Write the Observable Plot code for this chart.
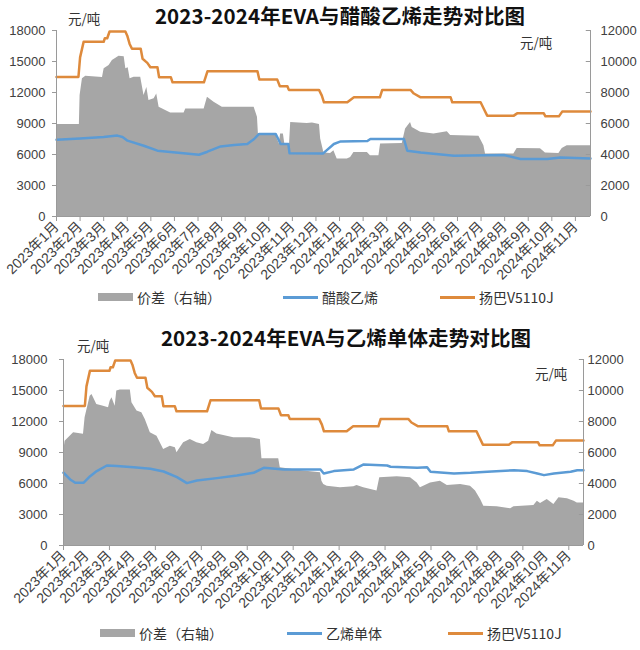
<!DOCTYPE html>
<html>
<head>
<meta charset="utf-8">
<script src="https://cdn.jsdelivr.net/npm/d3@7"></script>
<script src="https://cdn.jsdelivr.net/npm/@observablehq/plot@0.6"></script>
<style>
  body { margin: 0; background: #fff; }
  #page { position: relative; width: 640px; height: 650px; overflow: hidden; background: #fff;
          font-family: "Liberation Sans", "Noto Sans CJK SC", sans-serif; color: #333; }
  .title { position: absolute; width: 560px; text-align: center; font-family: "Noto Sans CJK SC", sans-serif;
           font-weight: bold; font-size: 20.5px; color: #111; line-height: 1.5; letter-spacing: 0.1px; white-space: nowrap; }
  .unit { position: absolute; font-size: 13.5px; color: #333; line-height: 1.2; font-family: "Noto Sans CJK SC", sans-serif; }
  .legend { position: absolute; font-size: 14px; color: #333; line-height: 1.2; display: flex; align-items: center;
            font-family: "Noto Sans CJK SC", sans-serif; white-space: nowrap; }
  .sw { display: inline-block; width: 35px; margin-right: 4px; }
  .chart { position: absolute; left: 0; }
</style>
</head>
<body>
<div id="page"></div>
<script>
// ---------------- data ----------------
const monthLabels = ["2023年1月","2023年2月","2023年3月","2023年4月","2023年5月","2023年6月","2023年7月","2023年8月","2023年9月","2023年10月","2023年11月","2023年12月","2024年1月","2024年2月","2024年3月","2024年4月","2024年5月","2024年6月","2024年7月","2024年8月","2024年9月","2024年10月","2024年11月"];
const leftTicks = [0, 3000, 6000, 9000, 12000, 15000, 18000];
const xEnd = 22.64; // months since 2023-01 (last data point)

// EVA 扬巴V5110J price, yuan/t (left axis); [month offset, value]
const eva = [[0,13500],[0.93,13500],[1.0,15400],[1.15,16900],[2.0,16900],[2.05,17250],[2.15,17250],[2.25,17900],[2.92,17900],[3.0,17500],[3.1,16700],[3.2,16230],[3.57,16230],[3.65,15260],[3.85,14870],[3.98,14440],[4.28,14440],[4.35,13470],[4.85,13470],[4.92,12990],[6.25,12990],[6.4,14050],[8.52,14050],[8.6,13250],[9.36,13250],[9.47,12600],[9.79,12600],[9.85,12250],[11.13,12250],[11.25,11700],[11.34,11050],[12.33,11050],[12.47,11300],[12.61,11530],[13.71,11530],[13.81,12250],[15.01,12250],[15.15,11900],[15.44,11530],[16.71,11530],[16.78,11050],[17.98,11050],[18.12,10400],[18.26,9760],[19.39,9760],[19.53,9980],[20.66,9980],[20.73,9690],[21.3,9690],[21.44,10150],[22.64,10150]];

// 醋酸乙烯 price (left axis)
const vae = [[0,7430],[1.0,7550],[2.0,7700],[2.58,7830],[2.8,7700],[3.01,7340],[3.7,6850],[4.28,6370],[5.27,6150],[6.04,5980],[6.4,6270],[6.96,6780],[7.53,6920],[8.09,7020],[8.38,7500],[8.59,7990],[9.29,7990],[9.4,7500],[9.5,7020],[9.83,7020],[9.88,6110],[11.3,6100],[11.45,6400],[11.76,7020],[12.05,7270],[13.18,7300],[13.31,7500],[14.73,7500],[14.87,6370],[15.44,6200],[16.85,5880],[18.97,5950],[19.67,5560],[20.81,5560],[21.37,5720],[22.64,5620]];

// 价差 EVA - 醋酸乙烯 (right axis)
const spreadVae = [[0,5930],[0.97,5930],[1.0,7800],[1.1,8880],[1.24,9050],[1.95,8970],[2.02,9530],[2.23,9740],[2.37,10060],[2.65,10340],[2.87,10300],[2.94,9530],[3.04,9600],[3.12,8880],[3.29,8980],[3.57,8980],[3.71,7800],[3.83,8330],[3.92,7480],[4.14,7590],[4.25,7910],[4.35,7050],[4.84,6680],[5.41,6680],[5.48,6940],[6.26,6940],[6.4,7690],[6.68,7370],[7.03,7050],[8.38,7050],[8.52,6400],[8.56,5330],[9.3,5330],[9.36,5000],[9.45,4680],[9.5,5330],[9.62,5330],[9.68,4680],[9.88,4680],[9.93,6070],[10.63,6000],[10.85,6030],[11.15,5930],[11.2,5000],[11.34,4100],[11.62,4070],[11.76,4250],[11.9,3710],[12.33,3710],[12.47,3810],[12.61,4130],[13.18,4130],[13.31,3920],[13.67,3920],[13.74,4680],[14.66,4710],[14.8,5650],[15.01,6070],[15.08,5750],[15.44,5430],[16.0,5330],[16.57,5470],[16.71,5220],[17.91,5170],[18.12,4570],[18.19,4030],[19.39,4030],[19.53,4390],[20.52,4370],[20.73,4100],[21.3,4070],[21.44,4390],[21.65,4570],[22.64,4570]];

// 乙烯单体 price (left axis)
const ethylene = [[0,7040],[0.29,6390],[0.51,6070],[0.87,6070],[1.16,6710],[1.45,7200],[1.89,7740],[2.32,7700],[3.05,7580],[3.78,7420],[4.36,7160],[4.94,6620],[5.37,6040],[5.81,6290],[6.68,6520],[7.55,6780],[8.28,7040],[8.72,7520],[9.59,7360],[10.46,7360],[11.19,7360],[11.33,6970],[11.77,7200],[12.64,7360],[13.07,7840],[14.09,7740],[14.24,7620],[15.4,7520],[15.83,7580],[15.98,7130],[17.0,6970],[17.72,7030],[18.45,7130],[19.61,7290],[20.19,7200],[20.63,6970],[20.92,6810],[21.35,6970],[22.08,7130],[22.37,7290],[22.64,7290]];

// 价差 EVA - 乙烯单体 (right axis)
const spreadEth = [[0,5980],[0.07,6730],[0.44,7270],[0.87,7170],[0.94,8240],[1.16,9630],[1.24,9750],[1.45,9100],[1.74,8990],[1.96,8890],[2.03,9310],[2.11,9530],[2.25,8990],[2.32,9960],[2.47,10030],[2.91,10030],[2.98,9210],[3.2,8670],[3.41,8560],[3.56,8130],[3.78,7270],[4.07,7050],[4.36,6190],[4.65,6410],[4.87,6300],[4.94,5980],[5.23,6630],[5.52,6840],[5.81,6630],[6.1,6520],[6.32,6730],[6.46,7420],[6.68,7200],[7.41,6950],[8.13,6950],[8.57,6840],[8.64,5590],[9.37,5590],[9.44,5010],[10.46,4800],[11.19,4690],[11.25,4150],[11.33,3940],[11.48,3830],[12.06,3720],[12.64,3790],[12.78,3870],[13.07,3720],[13.65,3510],[13.77,4370],[14.53,4430],[15.11,4370],[15.4,4040],[15.54,3720],[15.98,4040],[16.41,4150],[16.71,3870],[17.29,3940],[17.72,3830],[17.94,3510],[18.16,2970],[18.3,2540],[18.88,2500],[19.47,2370],[19.61,2500],[20.48,2580],[20.63,2860],[20.77,2710],[21.06,2970],[21.35,2650],[21.57,3080],[21.94,3010],[22.23,2860],[22.37,2750],[22.64,2750]];

const charts = [
  {title: "2023-2024年EVA与醋酸乙烯走势对比图", titleTop: 0, titleCenter: 340,
   svgTop: 20, mT: 10, mL: 56, mR: 50, spread: spreadVae, base: vae, baseName: "醋酸乙烯",
   tickStep: 1, leftPad: 7, rightPad: 10,
   unitL: [68, 10], unitR: [520, 34], legendTop: 289, legendX: [98, 283, 440]},
  {title: "2023-2024年EVA与乙烯单体走势对比图", titleTop: 322, titleCenter: 346,
   svgTop: 348, mT: 11, mL: 63, mR: 57, spread: spreadEth, base: ethylene, baseName: "乙烯单体",
   tickStep: 2, leftPad: 12, rightPad: 4,
   unitL: [77, 337], unitR: [535, 365], legendTop: 625, legendX: [100, 287, 448]}
];

const COLORS = {spread: "#a6a6a6", base: "#5b9bd5", eva: "#de8a3c", axis: "#9a9a9a", text: "#404040"};
const page = document.getElementById("page");

for (const c of charts) {
  const t = document.createElement("div");
  t.className = "title"; t.textContent = c.title;
  t.style.top = c.titleTop + "px"; t.style.left = (c.titleCenter - 280) + "px";
  page.appendChild(t);

  const plotH = 186, mB = 80;
  const svg = Plot.plot({
    width: 640, height: c.mT + plotH + mB,
    marginTop: c.mT, marginBottom: mB, marginLeft: c.mL, marginRight: c.mR,
    style: {fontFamily: '"Liberation Sans","Noto Sans CJK SC",sans-serif', fontSize: "13px", color: COLORS.text, background: "transparent", overflow: "visible"},
    x: {domain: [0, xEnd]},
    y: {domain: [0, 18000]},
    marks: [
      Plot.areaY(c.spread, {x: d => d[0], y: d => d[1] * 1.5, fill: COLORS.spread}),
      Plot.line(c.base, {x: d => d[0], y: d => d[1], stroke: COLORS.base, strokeWidth: 2.5}),
      Plot.line(eva, {x: d => d[0], y: d => d[1], stroke: COLORS.eva, strokeWidth: 2.5}),
      Plot.ruleX([0], {stroke: COLORS.axis}),
      Plot.ruleX([xEnd], {stroke: COLORS.axis}),
      Plot.ruleY([0], {stroke: COLORS.axis}),
      Plot.axisY({anchor: "left", ticks: leftTicks, tickFormat: d => String(d), tickSize: 4, tickPadding: c.leftPad, stroke: COLORS.axis, fontSize: 13}),
      Plot.axisY({anchor: "right", ticks: leftTicks, tickFormat: d => String(d / 1.5), tickSize: 0, tickPadding: c.rightPad, fontSize: 13}),
      Plot.ruleY(leftTicks, {y: d => d, x1: xEnd - 0.18, x2: xEnd, stroke: COLORS.axis}),
      Plot.axisX({ticks: d3.range(0, 23, c.tickStep), tickFormat: () => "", tickSize: 5, stroke: COLORS.axis}),
      Plot.axisX({ticks: d3.range(0, 23), tickFormat: i => monthLabels[i], tickSize: 0, tickRotate: -45, tickPadding: 8, fontSize: 14})
    ]
  });
  svg.classList.add("chart");
  svg.style.top = c.svgTop + "px";
  page.appendChild(svg);

  for (const [txt, pos] of [["元/吨", c.unitL], ["元/吨", c.unitR]]) {
    const u = document.createElement("div");
    u.className = "unit"; u.textContent = txt;
    u.style.left = pos[0] + "px"; u.style.top = pos[1] + "px";
    page.appendChild(u);
  }

  const items = [
    {name: "价差（右轴）", kind: "rect", color: COLORS.spread},
    {name: c.baseName, kind: "line", color: COLORS.base},
    {name: "扬巴V5110J", kind: "line", color: COLORS.eva}
  ];
  items.forEach((it, i) => {
    const lg = document.createElement("div");
    lg.className = "legend";
    lg.style.left = c.legendX[i] + "px"; lg.style.top = c.legendTop + "px";
    const sw = document.createElement("span");
    sw.className = "sw";
    sw.style.height = it.kind === "rect" ? "8px" : "2.5px";
    sw.style.background = it.color;
    lg.appendChild(sw);
    const s = document.createElement("span");
    s.textContent = it.name;
    lg.appendChild(s);
    page.appendChild(lg);
  });
}
</script>
</body>
</html>
